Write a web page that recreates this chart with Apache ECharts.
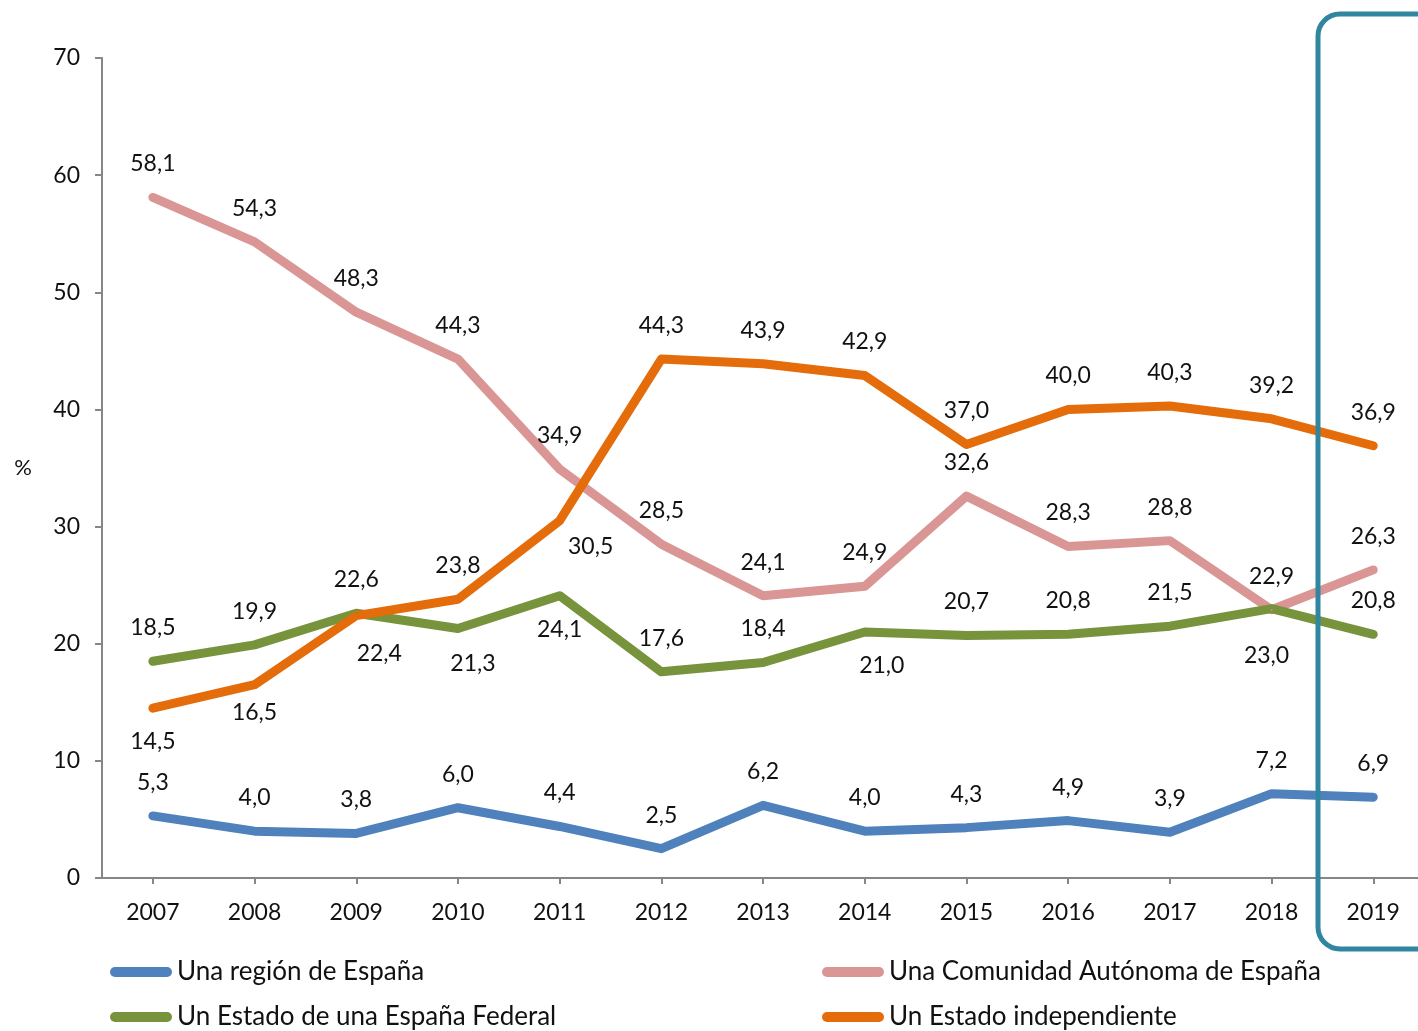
<!DOCTYPE html>
<html>
<head>
<meta charset="utf-8">
<script src="https://cdn.jsdelivr.net/npm/echarts@6/dist/echarts.min.js"></script>
<style>
html, body { margin: 0; padding: 0; background: #fff; }
#chart { width: 1418px; height: 1031px; }
</style>
</head>
<body>
<div id="chart"></div>
<script>
// categories (años)
const years = [2007, 2008, 2009, 2010, 2011, 2012, 2013, 2014, 2015, 2016, 2017, 2018, 2019]
const yTicks = [0, 10, 20, 30, 40, 50, 60, 70]

// series values (%)
const region = [5.3, 4.0, 3.8, 6.0, 4.4, 2.5, 6.2, 4.0, 4.3, 4.9, 3.9, 7.2, 6.9]
const comunidad = [58.1, 54.3, 48.3, 44.3, 34.9, 28.5, 24.1, 24.9, 32.6, 28.3, 28.8, 22.9, 26.3]
const federal = [18.5, 19.9, 22.6, 21.3, 24.1, 17.6, 18.4, 21.0, 20.7, 20.8, 21.5, 23.0, 20.8]
const independiente = [14.5, 16.5, 22.4, 23.8, 30.5, 44.3, 43.9, 42.9, 37.0, 40.0, 40.3, 39.2, 36.9]

const names = ['Una región de España', 'Una Comunidad Autónoma de España', 'Un Estado de una España Federal', 'Un Estado independiente']
const colors = ['#4f81bd', '#d99694', '#77933c', '#e46c0a']

// label placement overrides: index -> [position, dx, dy]
const federalLabelPos = { 3: ['bottom', 15, 2], 4: ['bottom', 0, 0], 7: ['bottom', 17, 0], 11: ['bottom', -5, 14] }
const independienteLabelPos = { 0: ['bottom', 0, 0], 1: ['bottom', 0, -6], 2: ['bottom', 23, 4], 4: ['bottom', 31, -8] }

const FONT = 'Lato, "Noto Sans", sans-serif'

function fmt(v) {
    return v.toFixed(1).replace('.', ',')
}

function buildData(values, overrides) {
    return values.map((v, i) => {
        const o = overrides && overrides[i]
        if (!o) return [years[i], v]
        return { value: [years[i], v], label: { position: o[0], offset: [o[1], o[2]] } }
    })
}

function makeSeries(idx, values, overrides) {
    return {
        name: names[idx],
        type: 'line',
        data: buildData(values, overrides),
        symbol: 'circle',
        symbolSize: 2,
        itemStyle: { color: colors[idx] },
        lineStyle: { width: 9, color: colors[idx], cap: 'round', join: 'round' },
        label: {
            show: true,
            position: 'top',
            distance: 21,
            color: '#111',
            fontSize: 23,
            fontFamily: FONT,
            formatter: (p) => fmt(p.value[1]),
        },
        emphasis: { disabled: true },
        animation: false,
    }
}

const legendIcon = 'path://M5,0 H57 A5,5 0 0 1 57,10 H5 A5,5 0 0 1 5,0 Z'
function makeLegend(name, left, top) {
    return {
        data: [name],
        left: left,
        top: top,
        icon: legendIcon,
        itemWidth: 62,
        itemHeight: 10,
        textStyle: { fontSize: 26, color: '#111', fontFamily: FONT },
        selectedMode: false,
    }
}

const chart = echarts.init(document.getElementById('chart'))
chart.setOption({
    animation: false,
    grid: { left: 102, top: 58, right: 0, height: 820 },
    xAxis: {
        type: 'value',
        min: 2006.5,
        max: 2019.44,
        axisLine: { show: true, lineStyle: { color: '#868686', width: 2 } },
        axisTick: { show: true, customValues: years, length: 6, lineStyle: { color: '#868686', width: 2 } },
        axisLabel: { customValues: years, color: '#111', fontSize: 23, fontFamily: FONT, margin: 23, formatter: (v) => String(v) },
        splitLine: { show: false },
    },
    yAxis: {
        type: 'value',
        min: yTicks[0],
        max: yTicks[yTicks.length - 1],
        interval: 10,
        name: '%',
        nameLocation: 'middle',
        nameRotate: 0,
        nameGap: 70,
        nameTextStyle: { color: '#111', fontSize: 22, fontFamily: FONT },
        axisLine: { show: true, lineStyle: { color: '#868686', width: 2 } },
        axisTick: { show: true, length: 7, lineStyle: { color: '#868686', width: 2 } },
        axisLabel: { color: '#111', fontSize: 23, fontFamily: FONT, margin: 22 },
        splitLine: { show: false },
    },
    legend: [
        makeLegend(names[0], 105, 954),
        makeLegend(names[1], 817, 954),
        makeLegend(names[2], 105, 999),
        makeLegend(names[3], 817, 999),
    ],
    graphic: [
        {
            type: 'rect',
            shape: { x: 1318, y: 14, width: 140, height: 935, r: 22 },
            style: { fill: 'none', stroke: '#31869f', lineWidth: 5 },
            z: 100,
        },
    ],
    series: [
        makeSeries(0, region),
        makeSeries(1, comunidad),
        makeSeries(2, federal, federalLabelPos),
        makeSeries(3, independiente, independienteLabelPos),
    ],
})
</script>
</body>
</html>
